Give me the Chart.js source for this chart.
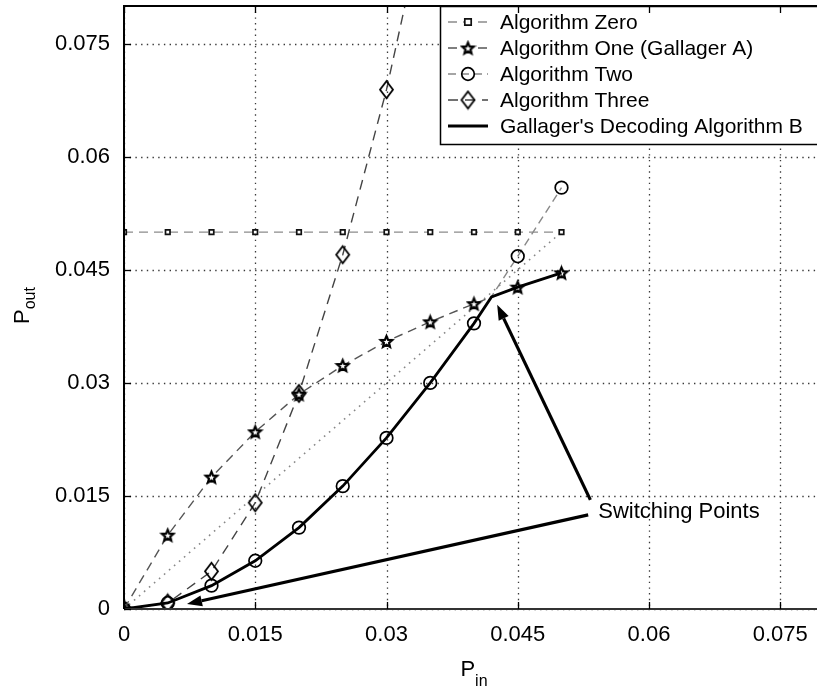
<!DOCTYPE html>
<html>
<head>
<meta charset="utf-8">
<script src="https://cdn.jsdelivr.net/npm/chart.js@4.4.0/dist/chart.umd.min.js"></script>
<style>
    html, body { margin: 0; padding: 0; background: #fff; overflow: hidden; }
    canvas { display: block; }
</style>
</head>
<body>
<canvas id="chart" width="840" height="689"></canvas>
<script>
(function () {
    // data
    const pIn = [0, 0.005, 0.01, 0.015, 0.02, 0.025, 0.03, 0.035, 0.04, 0.045, 0.05];
    const algoZero = [0.05, 0.05, 0.05, 0.05, 0.05, 0.05, 0.05, 0.05, 0.05, 0.05, 0.05];
    const algoOne = [0, 0.0098, 0.0175, 0.0235, 0.0285, 0.0323, 0.0355, 0.0381, 0.0405, 0.0427, 0.0446];
    const algoTwo = [0, 0.0008, 0.0031, 0.0064, 0.0108, 0.0163, 0.0227, 0.0300, 0.0379, 0.0468, 0.0559];
    const algoThreeIn = [0, 0.005, 0.01, 0.015, 0.02, 0.025, 0.03, 0.035];
    const algoThree = [0, 0.0008, 0.0050, 0.0141, 0.0286, 0.0470, 0.0689, 0.0953];
    const switchB = [0.042, 0.0414];      // where B leaves algorithm two for algorithm one
    const refIn = [0, 0.05];
    const refOut = [0, 0.05];
    const xTicks = [0, 0.015, 0.03, 0.045, 0.06, 0.075];
    const yTicks = [0, 0.015, 0.03, 0.045, 0.06, 0.075];
    const names = ['Algorithm Zero', 'Algorithm One (Gallager A)', 'Algorithm Two', 'Algorithm Three', "Gallager's Decoding Algorithm B"];
    // annotation (data units)
    const arrowTips = [[0.0072, 0.00066], [0.04265, 0.04035]];
    const arrowTails = [[0.05305, 0.01248], [0.0533, 0.01447]];
    const labelAt = [0.0542, 0.0129];
    const labelText = 'Switching Points';

    const FONT = '"Liberation Sans", Arial, Helvetica, sans-serif';
    const PLOT_TOP = 6;

    function pts(xs, ys) { return xs.map(function (v, i) { return { x: v, y: ys[i] }; }); }

    // Gallager B follows algorithm two up to the switch point, then algorithm one
    const gallagerB = pts(pIn.slice(0, 9), algoTwo.slice(0, 9))
        .concat([{ x: switchB[0], y: switchB[1] }])
        .concat(pts(pIn.slice(9), algoOne.slice(9)));

    function makeStar(r) {
        const s = Math.ceil(r * 2 + 5);
        const c = document.createElement('canvas');
        c.width = s; c.height = s;
        const g = c.getContext('2d');
        g.translate(s / 2, s / 2 + 0.6);
        g.beginPath();
        for (let i = 0; i < 10; i++) {
            const rr = i % 2 ? r * 0.45 : r;
            const a = -Math.PI / 2 + i * Math.PI / 5;
            g.lineTo(rr * Math.cos(a), rr * Math.sin(a));
        }
        g.closePath();
        g.fillStyle = '#fff'; g.fill();
        g.lineWidth = 2.2; g.strokeStyle = '#000'; g.stroke();
        return c;
    }

    function makeDiamond(w, h) {
        const c = document.createElement('canvas');
        c.width = w + 4; c.height = h + 4;
        const g = c.getContext('2d');
        g.beginPath();
        g.moveTo(c.width / 2, 2);
        g.lineTo(c.width - 2, c.height / 2);
        g.lineTo(c.width / 2, c.height - 2);
        g.lineTo(2, c.height / 2);
        g.closePath();
        g.lineWidth = 1.8; g.strokeStyle = '#000'; g.stroke();
        return c;
    }

    const starImg = makeStar(6);
    const diamondImg = makeDiamond(13, 17);

    const datasets = [
        {
            label: names[0], data: pts(pIn, algoZero),
            borderColor: '#8c8c8c', borderWidth: 1.4, borderDash: [9, 6],
            pointStyle: 'rect', pointRadius: 3.2, pointBorderColor: '#111', pointBackgroundColor: '#fff', pointBorderWidth: 1.7,
            order: 1
        },
        {
            label: names[1], data: pts(pIn, algoOne),
            borderColor: '#555', borderWidth: 1.4, borderDash: [9, 6],
            pointStyle: starImg, pointRadius: 6,
            order: 2
        },
        {
            label: names[2], data: pts(pIn, algoTwo),
            borderColor: '#888', borderWidth: 1.4, borderDash: [8, 5],
            pointStyle: 'circle', pointRadius: 6.3, pointBorderColor: '#000', pointBackgroundColor: 'rgba(0,0,0,0)', pointBorderWidth: 1.7,
            order: 3
        },
        {
            label: names[3], data: pts(algoThreeIn, algoThree),
            borderColor: '#444', borderWidth: 1.4, borderDash: [10, 7],
            pointStyle: diamondImg, pointRadius: 8,
            order: 4
        },
        {
            label: names[4], data: gallagerB,
            borderColor: '#000', borderWidth: 2.8, pointRadius: 0,
            order: 0
        },
        {
            label: '', data: pts(refIn, refOut),
            borderColor: '#888', borderWidth: 1.6, borderDash: [1.6, 5],
            pointRadius: 0,
            order: 20
        }
    ];

    function drawSub(ctx, main, sub, cx, baseY, mainSize, subSize, drop) {
        ctx.font = mainSize + 'px ' + FONT;
        const w1 = ctx.measureText(main).width;
        ctx.font = subSize + 'px ' + FONT;
        const w2 = ctx.measureText(sub).width;
        const x0 = cx - (w1 + w2) / 2;
        ctx.textAlign = 'left';
        ctx.textBaseline = 'alphabetic';
        ctx.font = mainSize + 'px ' + FONT;
        ctx.fillText(main, x0, baseY);
        ctx.font = subSize + 'px ' + FONT;
        ctx.fillText(sub, x0 + w1, baseY + drop);
    }

    function drawMarker(ctx, ds, x, y) {
        const st = ds.pointStyle;
        if (!ds.pointRadius) return;
        if (st instanceof HTMLCanvasElement) {
            ctx.drawImage(st, x - st.width / 2, y - st.height / 2);
            return;
        }
        ctx.save();
        ctx.setLineDash([]);
        ctx.lineWidth = ds.pointBorderWidth;
        ctx.strokeStyle = ds.pointBorderColor;
        ctx.fillStyle = ds.pointBackgroundColor;
        ctx.beginPath();
        if (st === 'rect') {
            const r = ds.pointRadius;
            ctx.rect(x - r, y - r, 2 * r, 2 * r);
        } else {
            ctx.arc(x, y, ds.pointRadius, 0, Math.PI * 2);
        }
        ctx.fill();
        ctx.stroke();
        ctx.restore();
    }

    function arrow(ctx, x1, y1, x2, y2) {
        const ang = Math.atan2(y2 - y1, x2 - x1);
        const len = 15, half = 5.5;
        const bx = x2 - len * Math.cos(ang), by = y2 - len * Math.sin(ang);
        ctx.beginPath();
        ctx.moveTo(x1, y1);
        ctx.lineTo(bx, by);
        ctx.stroke();
        ctx.beginPath();
        ctx.moveTo(x2, y2);
        ctx.lineTo(bx + half * Math.sin(ang), by - half * Math.cos(ang));
        ctx.lineTo(bx - half * Math.sin(ang), by + half * Math.cos(ang));
        ctx.closePath();
        ctx.fill();
    }

    const matlabFrame = {
        id: 'matlabFrame',
        // Chart.js reserves half a label height above the top tick; pin the plot top instead
        afterLayout(chart) {
            const area = chart.chartArea;
            const y = chart.scales.y;
            area.top = PLOT_TOP;
            area.height = area.bottom - area.top;
            y.top = PLOT_TOP;
            y.height = y.bottom - y.top;
            y.configure();
        },
        beforeDatasetsDraw(chart) {
            const { ctx, chartArea: a, scales } = chart;
            ctx.save();
            ctx.strokeStyle = '#3a3a3a';
            ctx.lineWidth = 1.3;
            ctx.setLineDash([1.4, 4.3]);
            xTicks.forEach(function (v) {
                const px = Math.round(scales.x.getPixelForValue(v)) + 0.5;
                ctx.beginPath(); ctx.moveTo(px, a.top); ctx.lineTo(px, a.bottom); ctx.stroke();
            });
            yTicks.forEach(function (v) {
                const py = Math.round(scales.y.getPixelForValue(v)) + 0.5;
                ctx.beginPath(); ctx.moveTo(a.left, py); ctx.lineTo(a.right, py); ctx.stroke();
            });
            ctx.restore();
        },
        afterDatasetsDraw(chart) {
            const { ctx, chartArea: a, scales } = chart;
            const sx = scales.x, sy = scales.y;
            ctx.save();

            // annotation arrows
            ctx.strokeStyle = '#000';
            ctx.fillStyle = '#000';
            ctx.lineWidth = 3.2;
            ctx.setLineDash([]);
            arrowTips.forEach(function (tip, i) {
                const tail = arrowTails[i];
                arrow(ctx, sx.getPixelForValue(tail[0]), sy.getPixelForValue(tail[1]),
                    sx.getPixelForValue(tip[0]), sy.getPixelForValue(tip[1]));
            });
            ctx.font = '22px ' + FONT;
            ctx.textAlign = 'left';
            ctx.textBaseline = 'middle';
            ctx.fillText(labelText, sx.getPixelForValue(labelAt[0]), sy.getPixelForValue(labelAt[1]));

            // legend box
            const lx = 440, ly = a.top, lw = 384, lh = 138, rowH = 26;
            ctx.fillStyle = '#fff';
            ctx.fillRect(lx, ly, lw, lh);
            ctx.strokeStyle = '#000';
            ctx.lineWidth = 1.5;
            ctx.strokeRect(lx + 0.5, ly + 0.5, lw, lh);
            names.forEach(function (name, i) {
                const ds = chart.data.datasets[i];
                const ry = ly + 16 + i * rowH;
                ctx.save();
                ctx.strokeStyle = ds.borderColor;
                ctx.lineWidth = ds.borderWidth;
                ctx.setLineDash(ds.borderDash || []);
                ctx.beginPath(); ctx.moveTo(448, ry); ctx.lineTo(488, ry); ctx.stroke();
                ctx.restore();
                drawMarker(ctx, ds, 468, ry);
                ctx.fillStyle = '#000';
                ctx.font = '21px ' + FONT;
                ctx.textAlign = 'left';
                ctx.textBaseline = 'middle';
                ctx.fillText(name, 500, ry + 1);
            });

            // axes box and inward ticks
            ctx.setLineDash([]);
            ctx.strokeStyle = '#000';
            ctx.lineWidth = 2;
            ctx.beginPath();
            ctx.moveTo(a.left, a.bottom); ctx.lineTo(a.left, a.top); ctx.lineTo(a.right, a.top);
            ctx.stroke();
            ctx.strokeStyle = '#333';
            ctx.beginPath(); ctx.moveTo(a.left, a.bottom); ctx.lineTo(a.right, a.bottom); ctx.stroke();
            ctx.strokeStyle = '#000';
            ctx.lineWidth = 1.3;
            xTicks.forEach(function (v) {
                const px = Math.round(sx.getPixelForValue(v)) + 0.5;
                ctx.beginPath(); ctx.moveTo(px, a.bottom); ctx.lineTo(px, a.bottom - 7); ctx.stroke();
                ctx.beginPath(); ctx.moveTo(px, a.top); ctx.lineTo(px, a.top + 7); ctx.stroke();
            });
            yTicks.forEach(function (v) {
                const py = Math.round(sy.getPixelForValue(v)) + 0.5;
                ctx.beginPath(); ctx.moveTo(a.left, py); ctx.lineTo(a.left + 7, py); ctx.stroke();
            });

            // axis titles with subscripts
            ctx.fillStyle = '#000';
            drawSub(ctx, 'P', 'in', (a.left + a.right) / 2, 676, 22, 16, 10);
            ctx.save();
            ctx.translate(29, (a.top + a.bottom) / 2 - 2);
            ctx.rotate(-Math.PI / 2);
            drawSub(ctx, 'P', 'out', 0, 0, 22, 16, 6);
            ctx.restore();

            ctx.restore();
        }
    };

    function fmt(v) { return String(v); }

    // keep the plot box fixed: no extra room for end labels
    function noPad(s) { s.paddingTop = 0; s.paddingBottom = 0; s.paddingLeft = 0; s.paddingRight = 0; }

    new Chart(document.getElementById('chart'), {
        type: 'line',
        data: { datasets: datasets },
        options: {
            responsive: false,
            animation: false,
            events: [],
            layout: { padding: { left: 0, right: 16, top: 6, bottom: 0 } },
            plugins: { legend: { display: false }, tooltip: { enabled: false } },
            elements: { line: { tension: 0 } },
            scales: {
                x: {
                    type: 'linear', min: 0, max: 0.08,
                    afterBuildTicks: function (s) { s.ticks = xTicks.map(function (v) { return { value: v }; }); },
                    afterFit: function (s) { s.height = 80; noPad(s); },
                    grid: { display: false, drawTicks: false },
                    border: { display: false },
                    ticks: { callback: fmt, color: '#000', padding: 13, maxRotation: 0, autoSkip: false, font: { family: FONT, size: 22 } }
                },
                y: {
                    type: 'linear', min: 0, max: 0.08,
                    afterBuildTicks: function (s) { s.ticks = yTicks.map(function (v) { return { value: v }; }); },
                    afterFit: function (s) { s.width = 124; noPad(s); },
                    grid: { display: false, drawTicks: false },
                    border: { display: false },
                    ticks: { callback: fmt, color: '#000', padding: 14, autoSkip: false, font: { family: FONT, size: 22 } }
                }
            }
        },
        plugins: [matlabFrame]
    });
})();
</script>
</body>
</html>
